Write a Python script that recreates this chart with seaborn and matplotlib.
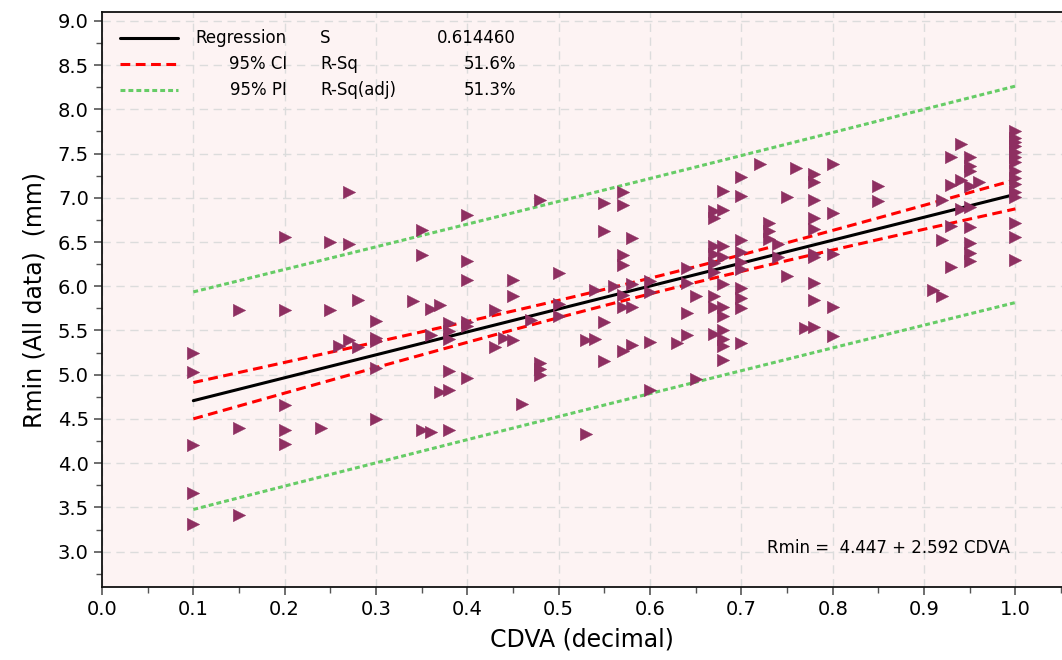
import numpy as np
import pandas as pd
import matplotlib
matplotlib.use("Agg")
import matplotlib.pyplot as plt
import seaborn as sns
from matplotlib.ticker import MultipleLocator, FormatStrFormatter

# CDVA (decimal) and Rmin (mm), one line per CDVA level
cdva = (
    [0.10] * 5 + [0.15] * 3 + [0.20] * 5 + [0.24] + [0.25] * 2 + [0.26]
    + [0.27] * 3 + [0.28] * 2 + [0.30] * 5 + [0.34] + [0.35] * 3
    + [0.36] * 3 + [0.37] * 2 + [0.38] * 6 + [0.40] * 6 + [0.43] * 2
    + [0.44] + [0.45] * 3 + [0.46] + [0.47] + [0.48] * 4 + [0.50] * 3
    + [0.53] * 2 + [0.54] * 2 + [0.55] * 4 + [0.56] + [0.57] * 7
    + [0.58] * 4 + [0.60] * 4 + [0.63] + [0.64] * 4 + [0.65] * 2
    + [0.67] * 9 + [0.68] * 11 + [0.70] * 10 + [0.72] + [0.73] * 3
    + [0.74] * 2 + [0.75] * 2 + [0.76] + [0.77] + [0.78] * 10
    + [0.80] * 5 + [0.85] * 2 + [0.91] + [0.92] * 3 + [0.93] * 4
    + [0.94] * 3 + [0.95] * 9 + [0.96] + [1.00] * 15
)
rmin = [
    5.24, 5.03, 4.21, 3.66, 3.31,
    5.73, 4.40, 3.41,
    6.56, 5.73, 4.66, 4.37, 4.22,
    4.40,
    6.50, 5.73,
    5.32,
    7.07, 6.48, 5.39,
    5.85, 5.31,
    5.61, 5.42, 5.38, 5.07, 4.50,
    5.83,
    6.64, 6.35, 4.38,
    5.74, 5.45, 4.35,
    5.79, 4.81,
    5.59, 5.49, 5.40, 5.04, 4.83, 4.38,
    6.81, 6.28, 6.07, 5.60, 5.55, 4.96,
    5.73, 5.31,
    5.41,
    6.07, 5.89, 5.39,
    4.67,
    5.62,
    6.98, 5.13, 5.06, 5.00,
    6.15, 5.80, 5.66,
    5.39, 4.33,
    5.96, 5.40,
    6.94, 6.63, 5.60, 5.15,
    6.00,
    7.07, 6.92, 6.35, 6.24, 5.90, 5.77, 5.27,
    6.54, 6.03, 5.77, 5.34,
    6.06, 5.94, 5.37, 4.83,
    5.36,
    6.21, 6.04, 5.70, 5.45,
    5.89, 4.95,
    6.85, 6.77, 6.45, 6.36, 6.26, 6.16, 5.89, 5.76, 5.46,
    7.08, 6.86, 6.45, 6.33, 6.02, 5.77, 5.66, 5.51, 5.40, 5.32, 5.17,
    7.24, 7.02, 6.52, 6.39, 6.27, 6.19, 5.98, 5.87, 5.75, 5.36,
    7.38,
    6.72, 6.63, 6.53,
    6.48, 6.33,
    7.01, 6.12,
    7.34,
    5.53,
    7.27, 7.18, 6.97, 6.77, 6.65, 6.37, 6.33, 6.04, 5.84, 5.54,
    7.38, 6.83, 6.37, 5.77, 5.44,
    7.13, 6.96,
    5.96,
    6.97, 6.52, 5.89,
    7.46, 7.14, 6.68, 6.22,
    7.61, 7.20, 6.87,
    7.46, 7.36, 7.30, 7.13, 6.90, 6.67, 6.49, 6.38, 6.29,
    7.18,
    7.75, 7.68, 7.63, 7.58, 7.52, 7.46, 7.41, 7.30, 7.22, 7.15, 7.07,
    7.01, 6.71, 6.56, 6.30,
]

# fit summary printed on the chart
intercept = 4.447
slope = 2.592
s_value = 0.614460
r_sq = 51.6
r_sq_adj = 51.3
t_crit = 1.973

legend_labels = ["Regression", "95% CI", "95% PI"]
stat_names = ["S", "R-Sq", "R-Sq(adj)"]
stat_values = [f"{s_value:.6f}", f"{r_sq:.1f}%", f"{r_sq_adj:.1f}%"]

point_color = "#8E2F61"
bg_color = "#FDF3F3"
ci_color = "#FF0000"
pi_color = "#66CC66"

df = pd.DataFrame({"cdva": cdva, "rmin": rmin})

# regression line with confidence / prediction bands
x = np.asarray(cdva)
n = len(x)
x_mean = x.mean()
sxx = ((x - x_mean) ** 2).sum()
xs = np.linspace(x.min(), x.max(), 60)
fit = intercept + slope * xs
ci_half = t_crit * s_value * np.sqrt(1 / n + (xs - x_mean) ** 2 / sxx)
pi_half = t_crit * s_value * np.sqrt(1 + 1 / n + (xs - x_mean) ** 2 / sxx)
bands = pd.DataFrame({
    "x": xs, "fit": fit,
    "ci_lo": fit - ci_half, "ci_hi": fit + ci_half,
    "pi_lo": fit - pi_half, "pi_hi": fit + pi_half,
})

sns.set_style("white")
plt.rcParams["font.family"] = ["DejaVu Sans"]
plt.rcParams["text.color"] = "black"
plt.rcParams["axes.labelcolor"] = "black"
plt.rcParams["xtick.labelcolor"] = "black"
plt.rcParams["ytick.labelcolor"] = "black"

fig = plt.figure(figsize=(10.62, 6.6), dpi=100)
ax = fig.add_axes([102 / 1062, 73 / 660, 960 / 1062, 575 / 660])
ax.set_facecolor(bg_color)

ci_dash = (3.2, 1.8)
pi_dash = (1.6, 1.0)
for col, color, dash, z in [("pi_hi", pi_color, pi_dash, 2),
                            ("pi_lo", pi_color, pi_dash, 2),
                            ("ci_hi", ci_color, ci_dash, 3),
                            ("ci_lo", ci_color, ci_dash, 3)]:
    sns.lineplot(data=bands, x="x", y=col, ax=ax, color=color, lw=2.2,
                 zorder=z)
    ax.lines[-1].set_dashes(dash)
sns.lineplot(data=bands, x="x", y="fit", ax=ax, color="black", lw=2.2,
             zorder=3)

sns.scatterplot(data=df, x="cdva", y="rmin", ax=ax, marker=">", s=80,
                color=point_color, edgecolor=point_color, linewidth=0.3,
                zorder=4)

ax.set_xlim(0, 1.051)
ax.set_ylim(2.6, 9.1)
ax.xaxis.set_major_locator(MultipleLocator(0.1))
ax.xaxis.set_minor_locator(MultipleLocator(0.05))
ax.yaxis.set_major_locator(MultipleLocator(0.5))
ax.yaxis.set_minor_locator(MultipleLocator(0.25))
ax.xaxis.set_major_formatter(FormatStrFormatter("%.1f"))
ax.yaxis.set_major_formatter(FormatStrFormatter("%.1f"))

ax.grid(True, which="major", color="#DCDCDC", ls=(0, (6, 4)), lw=1.0)
ax.set_axisbelow(True)
ax.tick_params(which="major", direction="out", length=6, width=1.2,
               color="#555555", labelsize=14, left=True, bottom=True)
ax.tick_params(which="minor", direction="out", length=4, width=1.0,
               color="#555555", left=True, bottom=True)
for side in ["left", "bottom", "top"]:
    ax.spines[side].set_color("#111111")
    ax.spines[side].set_linewidth(1.3)
ax.spines["right"].set_visible(False)

ax.set_xlabel("CDVA (decimal)", fontsize=17, labelpad=6)
ax.set_ylabel("Rmin (All data)  (mm)", fontsize=17, labelpad=8)

# Minitab-style legend table in the top left corner
rows_y = [0.9548, 0.9096, 0.8643]
styles = [("black", "-"), (ci_color, (0, ci_dash)), (pi_color, (0, pi_dash))]
for yy, (col, ls), lab, name, val in zip(rows_y, styles, legend_labels,
                                         stat_names, stat_values):
    ax.plot([0.019, 0.079], [yy, yy], transform=ax.transAxes, color=col,
            ls=ls, lw=2.2, zorder=5)
    ax.text(0.1927, yy, lab, transform=ax.transAxes, ha="right",
            va="center", fontsize=12)
    ax.text(0.2271, yy, name, transform=ax.transAxes, ha="left",
            va="center", fontsize=12)
    ax.text(0.4312, yy, val, transform=ax.transAxes, ha="right",
            va="center", fontsize=12)

ax.text(0.9458, 0.0678, f"Rmin =  {intercept:.3f} + {slope:.3f} CDVA",
        transform=ax.transAxes, ha="right", va="center", fontsize=12)

fig.savefig("out.png", dpi=100, facecolor="white")
